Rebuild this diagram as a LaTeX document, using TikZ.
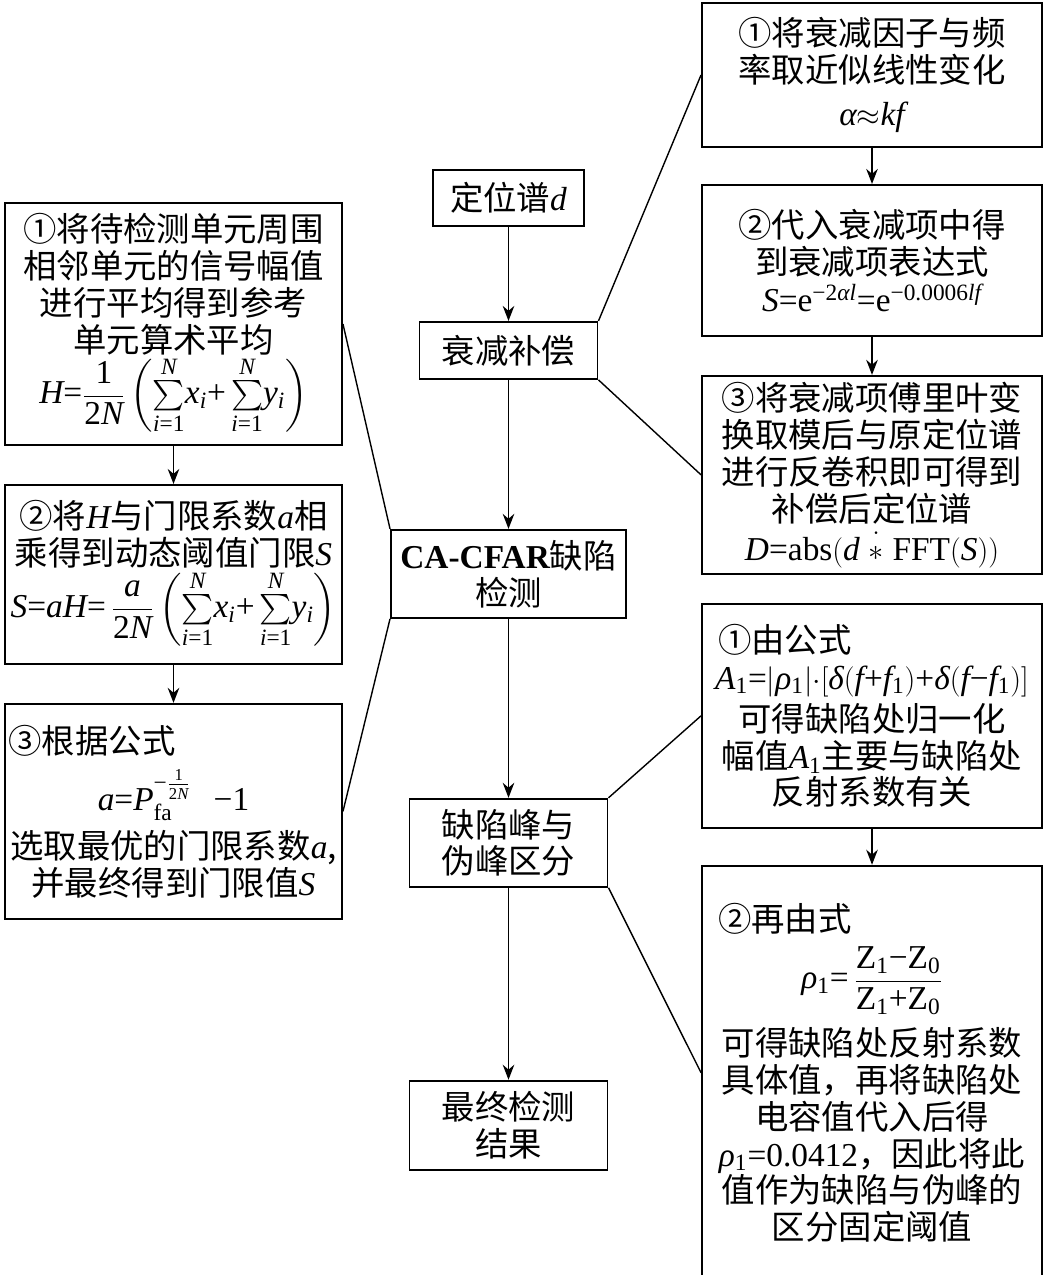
\documentclass[tikz,border=0pt]{standalone}
\usepackage{amsmath}
\usepackage[no-math]{fontspec}
\setmainfont{Noto Sans CJK SC}
\newfontfamily\lat[NFSSFamily=libser]{Liberation Serif}
% Times-like letters and digits in math
\DeclareSymbolFont{libit}{TU}{libser}{m}{it}
\DeclareSymbolFont{libup}{TU}{libser}{m}{n}
\DeclareMathAlphabet{\mathrm}{TU}{libser}{m}{n}
\newcommand\mletters[1]{\mletterloop#1\relax}
\def\mletterloop#1{\ifx#1\relax\else\DeclareMathSymbol{#1}{\mathalpha}{libit}{`#1}\expandafter\mletterloop\fi}
\def\mdigitloop#1{\ifx#1\relax\else\DeclareMathSymbol{#1}{\mathalpha}{libup}{`#1}\expandafter\mdigitloop\fi}
\mletters{abcdefghijklmnopqrstuvwxyzABCDEFGHIJKLMNOPQRSTUVWXYZ}
\mdigitloop0123456789.\relax
\DeclareMathSymbol{=}{\mathrel}{libup}{`=}
\DeclareMathSymbol{+}{\mathbin}{libup}{`+}
\AtBeginDocument{%
  \Umathchardef\alpha="7 \symlibit "03B1
  \Umathchardef\rho="7 \symlibit "03C1
  \Umathchardef\delta="7 \symlibit "03B4
  \Umathcode`-="2 \symlibup "2212 }
\usetikzlibrary{arrows.meta,positioning}
\tikzset{
  box/.style={rectangle, draw=black, line width=1.1pt, align=center,
              inner xsep=0.07cm, inner ysep=0.05cm, font=\fontsize{19}{21}\selectfont},
  sidebox/.style={box, text width=6.60cm, minimum width=6.74cm},
  rightbox/.style={box, text width=6.66cm, minimum width=6.80cm},
  arrow/.style={-{Stealth[length=3mm, width=2.3mm]}, line width=1.1pt},
  link/.style={line width=0.8pt},
}

\begin{document}
\begin{tikzpicture}
\useasboundingbox (0,0) rectangle (20.92,-25.5);

% ---- Centre column: main flow ----
\node[box, minimum width=3.02cm, minimum height=1.12cm] (loc) at (10.17,-3.96) {定位谱$d$};
\node[box, below=1.88cm of loc, minimum width=3.56cm, minimum height=1.14cm] (comp) {衰减补偿};
\node[box, below=2.98cm of comp, minimum width=4.70cm, minimum height=1.76cm] (cfar) {{\lat\bfseries CA-CFAR}缺陷\\检测};
\node[box, below=3.58cm of cfar, minimum width=3.96cm, minimum height=1.76cm] (peak) {缺陷峰与\\伪峰区分};
\node[box, below=3.84cm of peak, minimum width=3.96cm, minimum height=1.78cm] (final) {最终检测\\结果};

% ---- Left column: CA-CFAR steps ----
\node[sidebox, minimum height=4.84cm] (cf1) at (3.47,-6.48)
  {①将待检测单元周围\\相邻单元的信号幅值\\进行平均得到参考\\单元算术平均\\
   $H{=}\dfrac{1}{2N}\left(\sum\limits_{i=1}^{N}\!x_i{+}\sum\limits_{i=1}^{N}\!y_i\right)$};
\node[sidebox, below=0.76cm of cf1, minimum height=3.58cm] (cf2)
  {②将$H$与门限系数$a$相\\乘得到动态阈值门限$S$\\
   $S{=}aH{=}\,\dfrac{a}{2N}\left(\sum\limits_{i=1}^{N}\!x_i{+}\sum\limits_{i=1}^{N}\!y_i\right)$};
\node[sidebox, below=0.76cm of cf2, minimum height=4.30cm] (cf3)
  {③根据公式\hfill\null\\[7pt]
   $a{=}P_{\mathrm{fa}}^{-\frac{1}{2N}}\ \ {-1}$\\[4pt]
   选取最优的门限系数$a$,\\并最终得到门限值$S$};

% ---- Right column, top: attenuation compensation ----
\node[rightbox, minimum height=2.88cm] (ac1) at (17.44,-1.50)
  {①将衰减因子与频\\率取近似线性变化\\[4pt]$\alpha{\approx}kf$};
\node[rightbox, below=0.72cm of ac1, minimum height=3.02cm] (ac2)
  {②代入衰减项中得\\到衰减项表达式\\$S{=}\mathrm{e}^{-2\alpha l}{=}\mathrm{e}^{-0.0006lf}$};
\node[rightbox, below=0.76cm of ac2, minimum height=3.96cm] (ac3)
  {③将衰减项傅里叶变\\换取模后与原定位谱\\进行反卷积即可得到\\补偿后定位谱\\
   $D{=}\mathrm{abs}(d\mathbin{\overset{\cdot}{\ast}}\mathrm{FFT}(S))$};

% ---- Right column, bottom: peak discrimination ----
\node[rightbox, below=0.56cm of ac3, minimum height=4.48cm] (pk1)
  {\hspace*{0.25cm}①由公式\hfill\null\\
   $A_1{=}|\rho_1|{\cdot}[\delta(f{+}f_1){+}\delta(f{-}f_1)]$\\[3pt]
   可得缺陷处归一化\\幅值$A_1$主要与缺陷处\\反射系数有关};
\node[rightbox, below=0.72cm of pk1, minimum height=8.28cm] (pk2)
  {\hspace*{0.25cm}②再由式\hfill\null\\[6pt]
   $\rho_1{=}\,\dfrac{\mathrm{Z}_1{-}\mathrm{Z}_0}{\mathrm{Z}_1{+}\mathrm{Z}_0}$\\[6pt]
   可得缺陷处反射系数\\具体值，再将缺陷处\\电容值代入后得\\
   $\rho_1{=}0.0412$，因此将此\\值作为缺陷与伪峰的\\区分固定阈值};

% ---- Arrows ----
\foreach \a/\b in {loc/comp, comp/cfar, cfar/peak, peak/final}
  \draw[arrow] (\a) -- (\b);
\foreach \a/\b in {cf1/cf2, cf2/cf3, ac1/ac2, ac2/ac3, pk1/pk2}
  \draw[arrow] (\a) -- (\b);

% ---- Brackets to the detail boxes ----
\draw[link] (comp.north east) -- (ac1.west);
\draw[link] (comp.south east) -- (ac3.west);
\draw[link] (cfar.north west) -- (cf1.east);
\draw[link] (cfar.south west) -- (cf3.east);
\draw[link] (peak.north east) -- (pk1.west);
\draw[link] (peak.south east) -- (pk2.west);
\end{tikzpicture}
\end{document}
